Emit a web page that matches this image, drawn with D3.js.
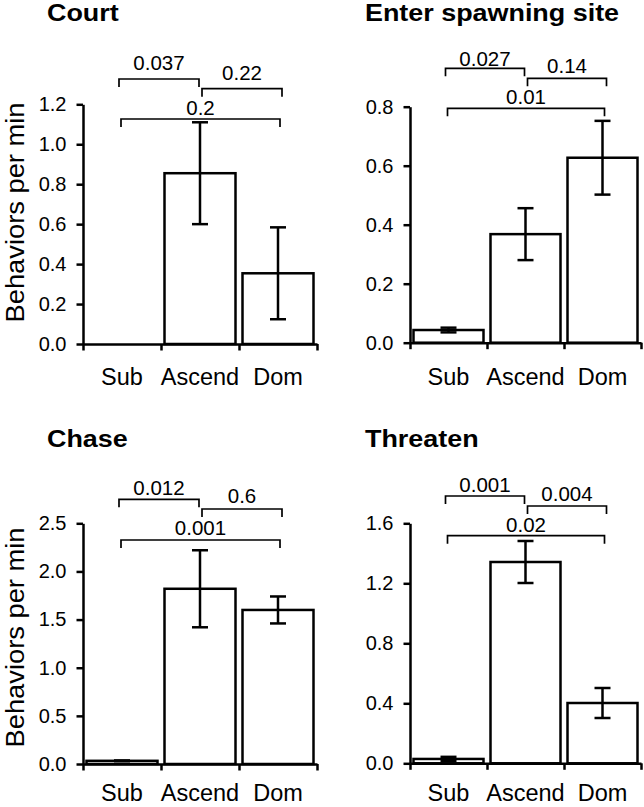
<!DOCTYPE html>
<html>
<head>
<meta charset="utf-8">
<script src="https://cdn.jsdelivr.net/npm/d3@7"></script>
<style>
  html, body { margin: 0; padding: 0; background: #fff; }
  svg { display: block; }
  text { font-family: "Liberation Sans", Arial, Helvetica, sans-serif; fill: #000; }
</style>
</head>
<body>
<svg id="chart" width="644" height="807"></svg>
<script>
// ---- data ----
const categories = ["Sub", "Ascend", "Dom"];
const panelTitles = ["Court", "Enter spawning site", "Chase", "Threaten"];
const yAxisLabel = "Behaviors per min";

const courtMeans = [0, 0.855, 0.354];
const courtErrors = [0, 0.255, 0.23];
const enterMeans = [0.043, 0.368, 0.627];
const enterErrors = [0.008, 0.088, 0.125];
const chaseMeans = [0.033, 1.82, 1.6];
const chaseErrors = [0.004, 0.4, 0.14];
const threatenMeans = [0.029, 1.342, 0.402];
const threatenErrors = [0.014, 0.14, 0.1];

const courtTicks = [0, 0.2, 0.4, 0.6, 0.8, 1.0, 1.2];
const enterTicks = [0, 0.2, 0.4, 0.6, 0.8];
const chaseTicks = [0, 0.5, 1.0, 1.5, 2.0, 2.5];
const threatenTicks = [0, 0.4, 0.8, 1.2, 1.6];

const comparisons = [[0, 1], [1, 2], [0, 2]];
const courtP = ["0.037", "0.22", "0.2"];
const enterP = ["0.027", "0.14", "0.01"];
const chaseP = ["0.012", "0.6", "0.001"];
const threatenP = ["0.001", "0.004", "0.02"];

// ---- layout (pixels) ----
const panels = [
  { title: panelTitles[0], means: courtMeans, errs: courtErrors, ticks: courtTicks, p: courtP,
    x0: 83, x1: 317, yBase: 344, yTop: 104.3, titleX: 47, titleY: 21, catY: 385, ylab: true, ylabY: 212.5,
    br: [{ y: 79, ly: 70 }, { y: 88.7, ly: 80 }, { y: 119, ly: 115 }] },
  { title: panelTitles[1], means: enterMeans, errs: enterErrors, ticks: enterTicks, p: enterP,
    x0: 410, x1: 641, yBase: 342.7, yTop: 106.7, titleX: 365, titleY: 21, catY: 385, ylab: false,
    br: [{ y: 68.3, ly: 65.7 }, { y: 78.3, ly: 73 }, { y: 108.3, ly: 104 }] },
  { title: panelTitles[2], means: chaseMeans, errs: chaseErrors, ticks: chaseTicks, p: chaseP,
    x0: 83, x1: 317, yBase: 764, yTop: 523.3, titleX: 47, titleY: 447, catY: 801, ylab: true, ylabY: 637.5,
    br: [{ y: 499.3, ly: 495 }, { y: 509, ly: 503 }, { y: 540, ly: 535 }] },
  { title: panelTitles[3], means: threatenMeans, errs: threatenErrors, ticks: threatenTicks, p: threatenP,
    x0: 410, x1: 641, yBase: 763.3, yTop: 523.3, titleX: 365, titleY: 447, catY: 801, ylab: false,
    br: [{ y: 496, ly: 491.7 }, { y: 506, ly: 500.7 }, { y: 535.7, ly: 531.7 }] }
];
const bracketDx = [[-3, -1], [2, 4], [-1, 2]];
const LW = 2.5, BLW = 1.7, CAP = 16, TICK = 6.5, INSET = 3.5, LEG = 8;

const svg = d3.select("#chart");

panels.forEach(pn => {
  const g = svg.append("g");
  const x = d3.scaleBand().domain(categories).range([pn.x0, pn.x1]).padding(0);
  const xl = d3.scaleLinear().domain([0, categories.length]).range([pn.x0, pn.x1]);
  const ymax = pn.ticks[pn.ticks.length - 1];
  const y = d3.scaleLinear().domain([0, ymax]).range([pn.yBase, pn.yTop]);

  // title
  g.append("text").attr("transform", `translate(${pn.titleX},${pn.titleY}) scale(1.17,1)`)
    .attr("font-size", 23).attr("font-weight", "bold").text(pn.title);

  // bars
  g.selectAll("rect.bar").data(categories).enter().append("rect")
    .attr("x", c => x(c) + INSET)
    .attr("width", x.bandwidth() - 2 * INSET)
    .attr("y", (c, i) => y(pn.means[i]))
    .attr("height", (c, i) => y(0) - y(pn.means[i]))
    .attr("fill", "#fff").attr("stroke", "#000").attr("stroke-width", LW);

  // error bars
  categories.forEach((c, i) => {
    if (pn.errs[i] <= 0) return;
    const cx = x(c) + x.bandwidth() / 2;
    const hi = y(pn.means[i] + pn.errs[i]), lo = y(pn.means[i] - pn.errs[i]);
    const eg = g.append("g").attr("stroke", "#000").attr("stroke-width", LW);
    eg.append("line").attr("x1", cx).attr("x2", cx).attr("y1", hi).attr("y2", lo);
    eg.append("line").attr("x1", cx - CAP / 2).attr("x2", cx + CAP / 2).attr("y1", hi).attr("y2", hi);
    eg.append("line").attr("x1", cx - CAP / 2).attr("x2", cx + CAP / 2).attr("y1", lo).attr("y2", lo);
  });

  // y axis
  const ya = g.append("g").attr("transform", `translate(${pn.x0},0)`)
    .call(d3.axisLeft(y).tickValues(pn.ticks).tickSize(TICK).tickSizeOuter(0).tickPadding(10)
      .tickFormat(d3.format(".1f")));
  ya.select(".domain").attr("stroke-width", LW);
  ya.selectAll(".tick line").attr("stroke-width", LW);
  ya.selectAll(".tick text").attr("font-size", 20).attr("font-family", "Liberation Sans, Arial, sans-serif")
    .attr("fill", "#000");

  // x axis
  const xa = g.append("g").attr("transform", `translate(0,${pn.yBase})`)
    .call(d3.axisBottom(xl).tickValues(d3.range(categories.length + 1)).tickSize(TICK).tickSizeOuter(0).tickFormat(""));
  xa.select(".domain").attr("stroke-width", LW);
  xa.selectAll(".tick line").attr("stroke-width", LW);

  // category labels
  g.selectAll("text.cat").data(categories).enter().append("text")
    .attr("x", c => x(c) + x.bandwidth() / 2).attr("y", pn.catY)
    .attr("text-anchor", "middle").attr("font-size", 23.5).text(c => c);

  // y label
  if (pn.ylab) {
    g.append("text").attr("transform", `translate(24,${pn.ylabY}) rotate(-90) scale(1.05,1)`)
      .attr("text-anchor", "middle").attr("font-size", 26).text(yAxisLabel);
  }

  // significance brackets
  comparisons.forEach((cmp, k) => {
    const xa1 = x(categories[cmp[0]]) + x.bandwidth() / 2 + bracketDx[k][0];
    const xa2 = x(categories[cmp[1]]) + x.bandwidth() / 2 + bracketDx[k][1];
    const by = pn.br[k].y;
    g.append("path")
      .attr("d", `M${xa1},${by + LEG}V${by}H${xa2}V${by + LEG}`)
      .attr("fill", "none").attr("stroke", "#000").attr("stroke-width", BLW);
    g.append("text").attr("x", (xa1 + xa2) / 2).attr("y", pn.br[k].ly)
      .attr("text-anchor", "middle").attr("font-size", 20.5).text(pn.p[k]);
  });
});
</script>
</body>
</html>
